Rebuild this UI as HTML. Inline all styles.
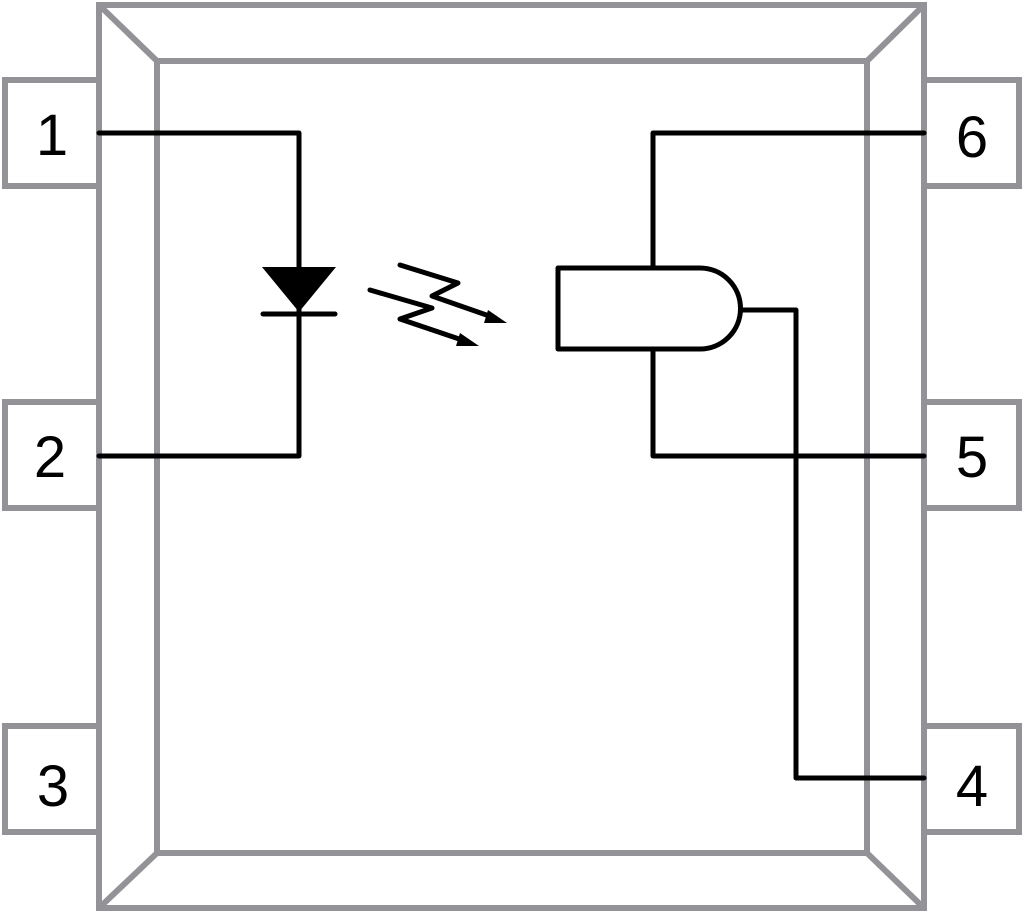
<!DOCTYPE html>
<html><head><meta charset="utf-8"><style>html,body{margin:0;padding:0;background:#fff}svg{display:block}</style></head>
<body>
<svg width="1024" height="913" viewBox="0 0 1024 913" xmlns="http://www.w3.org/2000/svg">
<g fill="none" stroke="#939397" stroke-width="6" stroke-linejoin="miter">
<rect x="99" y="5" width="825" height="903"/>
<rect x="157" y="61" width="710" height="792"/>
<line x1="99" y1="5" x2="157" y2="61"/>
<line x1="924" y1="5" x2="867" y2="61"/>
<line x1="99" y1="908" x2="157" y2="853"/>
<line x1="924" y1="908" x2="867" y2="853"/>
<polyline points="99,80 5,80 5,186 99,186"/>
<polyline points="99,402 5,402 5,508 99,508"/>
<polyline points="99,726 5,726 5,832 99,832"/>
<polyline points="924,80 1019,80 1019,186 924,186"/>
<polyline points="924,402 1019,402 1019,508 924,508"/>
<polyline points="924,726 1019,726 1019,832 924,832"/>
</g>
<g fill="none" stroke="#000" stroke-width="5" stroke-linecap="round" stroke-linejoin="round">
<polyline points="99,133 299,133 299,456 99,456"/>
<line x1="263" y1="314" x2="335" y2="314"/>
<polyline points="924,133 653,133 653,268"/>
<polyline points="653,349 653,456 924,456"/>
<path d="M700,268 L558,268 L558,349 L700,349 A40.5,40.5 0 0 0 700,268 Z"/>
<polyline points="741,310 796,310 796,778 924,778"/>
<polyline points="400,265 458,283 432,296 495,318"/>
<polyline points="370,290 432,308 400,319 468,342"/>
</g>
<polygon points="262,267 336,267 299,312" fill="#000"/>
<polygon points="507,323 488,310 484,323" fill="#000"/>
<polygon points="479,346 460,333 456,346" fill="#000"/>
<g font-family="Liberation Sans, sans-serif" font-size="58" fill="#000" text-anchor="middle">
<text x="52" y="155">1</text>
<text x="50" y="477">2</text>
<text x="53" y="806">3</text>
<text x="972" y="806">4</text>
<text x="972" y="477">5</text>
<text x="972" y="157">6</text>
</g>
</svg>
</body></html>
